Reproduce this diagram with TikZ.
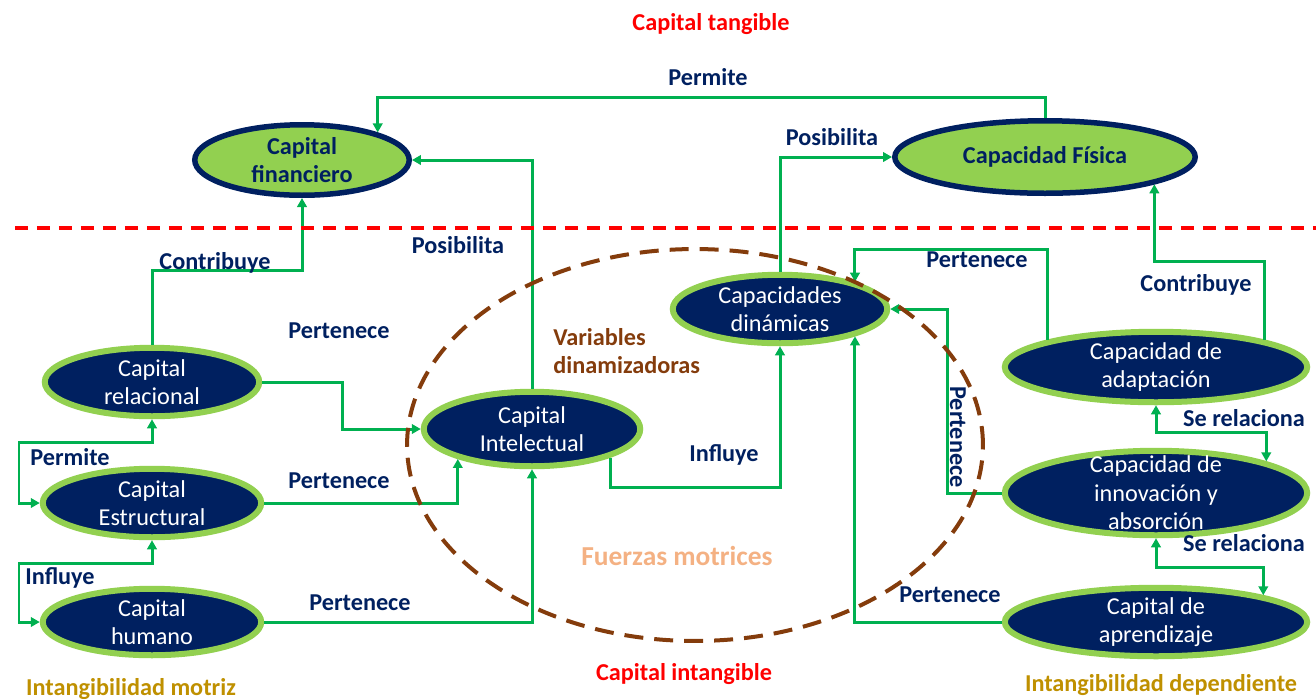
\documentclass[tikz,border=0pt]{standalone}
\usepackage{fontspec}
\setmainfont{Carlito}
\usepackage{tikz}
\usetikzlibrary{shapes.geometric,arrows.meta}
\definecolor{navy}{HTML}{002060}
\definecolor{lgreen}{HTML}{92D050}
\definecolor{lineg}{HTML}{00B050}
\definecolor{rust}{HTML}{843C0C}
\definecolor{gold}{HTML}{BF9000}
\definecolor{peach}{HTML}{F4B183}
\definecolor{tred}{HTML}{FF0000}

\begin{document}
\begin{tikzpicture}[x=0.02cm,y=-0.02cm,
  >={Triangle[length=0.18cm,width=0.19cm]},
  tfnt/.style={font=\fontsize{13.8}{16.3}\selectfont},
  bfnt/.style={font=\fontsize{13.8}{16.3}\selectfont\bfseries},
  lbl/.style={bfnt,text=navy,inner sep=1pt},
  tang/.style={ellipse,draw=navy,line width=0.11cm,fill=lgreen,inner sep=0pt},
  intang/.style={ellipse,draw=lgreen,line width=0.12cm,fill=navy,inner sep=0pt},
  ttxt/.style={bfnt,text=navy,align=center},
  itxt/.style={tfnt,text=white,align=center},
  conn/.style={draw=lineg,line width=0.06cm}]
\useasboundingbox (0,0) rectangle (1316,698);

\node[tang,minimum width=4.29cm,minimum height=1.41cm,label={[ttxt]center:Capital\\financiero}] (cfin) at (302,160) {};
\node[tang,minimum width=6.01cm,minimum height=1.45cm,label={[ttxt]center:Capacidad Física}] (cfis) at (1045,157) {};

\node[intang,minimum width=4.29cm,minimum height=1.37cm,label={[itxt]center:Capital\\relacional}] (crel) at (152,382) {};
\node[intang,minimum width=4.37cm,minimum height=1.37cm,label={[itxt]center:Capital\\Estructural}] (cest) at (152,503) {};
\node[intang,minimum width=4.37cm,minimum height=1.33cm,label={[itxt]center:Capital\\humano}] (chum) at (152,622) {};
\node[intang,minimum width=4.33cm,minimum height=1.49cm,label={[itxt]center:Capital\\Intelectual}] (cint) at (532,429) {};
\node[intang,minimum width=4.29cm,minimum height=1.37cm,label={[itxt]center:Capacidades\\dinámicas}] (cdin) at (780,309) {};
\node[intang,minimum width=6.05cm,minimum height=1.41cm,label={[itxt]center:Capacidad de\\adaptación}] (cada) at (1156,367) {};
\node[intang,minimum width=6.05cm,minimum height=1.69cm,label={[itxt]center:Capacidad de\\innovación y\\absorción}] (cinn) at (1156,493) {};
\node[intang,minimum width=6.05cm,minimum height=1.37cm,label={[itxt]center:Capital de\\aprendizaje}] (capr) at (1156,622) {};

\draw[conn,->] (cfis.north) -- ++(0,-21) -| (cfin.20);
\draw[conn,->] (cint.north) |- (cfin.east);
\draw[conn,->] (crel.north) -- ++(0,-74) -| (cfin.south);
\draw[conn,->] (cdin.north) |- (cfis.west);
\draw[conn,->] (cada.14) -- ++(0,-78) -| (cfis.-14);
\draw[conn,->] (cada.166) -- ++(0,-90) -| (cdin.20);
\draw[conn,->] (cinn.west) -- ++(-54,0) |- (cdin.east);
\draw[conn,->] (capr.west) -| (cdin.-20);
\draw[conn,->] (cint.-20) -- ++(0,30) -| (cdin.south);
\draw[conn,<->] (cada.south) -- ++(0,27) -| (cinn.16);
\draw[conn,<->] (cinn.south) -- ++(0,29) -| (capr.14);
\draw[conn,->] (crel.east) -- ++(80,0) |- (cint.west);
\draw[conn,->] (cest.east) -| (cint.-158);
\draw[conn,->] (chum.east) -| (cint.south);
\draw[conn,<->] (crel.south) -- ++(0,23) -- ++(-133,0) |- (cest.west);
\draw[conn,<->] (cest.south) -- ++(0,23) -- ++(-133,0) |- (chum.west);

\node[lbl] (l1) at (708,77) {Permite};
\node[lbl] (l2) at (832,137) {Posibilita};
\node[lbl] (l3) at (458,245) {Posibilita};
\node[lbl] (l4) at (215,263) {Contribuye};
\node[lbl] (l5) at (1196,285) {Contribuye};
\node[lbl] (l6) at (977,260) {Pertenece};
\node[lbl] (l7) at (339,331) {Pertenece};
\node[lbl] (l8) at (339,481) {Pertenece};
\node[lbl] (l9) at (360,603) {Pertenece};
\node[lbl] (l10) at (950,595) {Pertenece};
\node[lbl,rotate=-90] (l11) at (958,437) {Pertenece};
\node[lbl] (l12) at (70,457) {Permite};
\node[lbl] (l13) at (60,578) {Influye};
\node[lbl] (l14) at (724,455) {Influye};
\node[lbl] (l15) at (1244,418) {Se relaciona};
\node[lbl] (l16) at (1244,543) {Se relaciona};

\node[bfnt,text=rust,align=left,anchor=west,inner sep=0pt] (vd) at (553,351) {Variables\\dinamizadoras};
\node[font=\fontsize{15.6}{18}\selectfont\bfseries,text=peach] (fm) at (677,556) {Fuerzas motrices};
\node[bfnt,text=tred] (ct) at (711,24) {Capital tangible};
\node[bfnt,text=tred] (ci) at (684,674) {Capital intangible};
\node[bfnt,text=gold] (im) at (131,689) {Intangibilidad motriz};
\node[bfnt,text=gold] (id) at (1161,685) {Intangibilidad dependiente};

\draw[tred,line width=0.065cm,dash pattern=on 0.27cm off 0.17cm] (15,228) -- (1316,228);
\draw[rust,line width=0.08cm,dash pattern=on 0.38cm off 0.22cm] (695,445) ellipse [x radius=5.76cm, y radius=3.92cm];
\end{tikzpicture}
\end{document}
